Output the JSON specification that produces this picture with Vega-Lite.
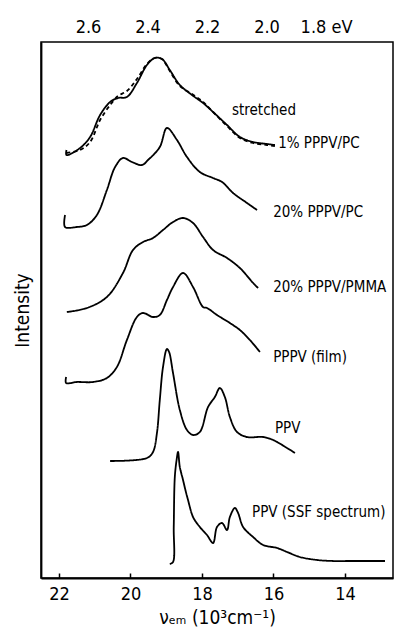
{
  "$schema": "https://vega.github.io/schema/vega-lite/v6.json",
  "width": 352,
  "height": 536,
  "autosize": "none",
  "padding": {"left": 41, "top": 42, "right": 1, "bottom": 65},
  "background": "white",
  "config": {
    "view": {"stroke": "black", "strokeWidth": 1.5},
    "font": "Liberation Sans Narrow, DejaVu Sans Condensed, Roboto Condensed, DejaVu Sans",
    "axis": {"labelFont": "Liberation Sans Narrow, DejaVu Sans Condensed, Roboto Condensed, DejaVu Sans", "titleFont": "Liberation Sans Narrow, DejaVu Sans Condensed, Roboto Condensed, DejaVu Sans", "labelColor": "black", "titleColor": "black", "domainColor": "black", "tickColor": "black", "titleFontWeight": "normal", "grid": false}
  },
  "datasets": {
    "curves": [
      {"s":"str","st":"solid","i":0,"wn":21.79,"y":428},
      {"s":"str","st":"solid","i":1,"wn":21.79,"y":423},
      {"s":"str","st":"solid","i":2,"wn":21.41,"y":430},
      {"s":"str","st":"solid","i":3,"wn":21.13,"y":441},
      {"s":"str","st":"solid","i":4,"wn":20.85,"y":463},
      {"s":"str","st":"solid","i":5,"wn":20.57,"y":476},
      {"s":"str","st":"solid","i":6,"wn":20.35,"y":480},
      {"s":"str","st":"solid","i":7,"wn":20.10,"y":481},
      {"s":"str","st":"solid","i":8,"wn":19.82,"y":495},
      {"s":"str","st":"solid","i":9,"wn":19.54,"y":513},
      {"s":"str","st":"solid","i":10,"wn":19.32,"y":520},
      {"s":"str","st":"solid","i":11,"wn":19.12,"y":519},
      {"s":"str","st":"solid","i":12,"wn":18.90,"y":508},
      {"s":"str","st":"solid","i":13,"wn":18.62,"y":493},
      {"s":"str","st":"solid","i":14,"wn":18.28,"y":483},
      {"s":"str","st":"solid","i":15,"wn":17.97,"y":475},
      {"s":"str","st":"solid","i":16,"wn":17.69,"y":466},
      {"s":"str","st":"solid","i":17,"wn":17.30,"y":453},
      {"s":"str","st":"solid","i":18,"wn":16.94,"y":441},
      {"s":"str","st":"solid","i":19,"wn":16.57,"y":436},
      {"s":"str","st":"solid","i":20,"wn":16.18,"y":434},
      {"s":"str","st":"solid","i":21,"wn":15.96,"y":433},

      {"s":"strd","st":"dashed","i":0,"wn":21.79,"y":425},
      {"s":"strd","st":"dashed","i":1,"wn":21.41,"y":428},
      {"s":"strd","st":"dashed","i":2,"wn":21.13,"y":436},
      {"s":"strd","st":"dashed","i":3,"wn":20.85,"y":458},
      {"s":"strd","st":"dashed","i":4,"wn":20.57,"y":473},
      {"s":"strd","st":"dashed","i":5,"wn":20.35,"y":482},
      {"s":"strd","st":"dashed","i":6,"wn":20.10,"y":487},
      {"s":"strd","st":"dashed","i":7,"wn":19.82,"y":499},
      {"s":"strd","st":"dashed","i":8,"wn":19.54,"y":514},
      {"s":"strd","st":"dashed","i":9,"wn":19.32,"y":520},
      {"s":"strd","st":"dashed","i":10,"wn":19.12,"y":519},
      {"s":"strd","st":"dashed","i":11,"wn":18.90,"y":507},
      {"s":"strd","st":"dashed","i":12,"wn":18.62,"y":492},
      {"s":"strd","st":"dashed","i":13,"wn":18.28,"y":484},
      {"s":"strd","st":"dashed","i":14,"wn":17.97,"y":476},
      {"s":"strd","st":"dashed","i":15,"wn":17.69,"y":466},
      {"s":"strd","st":"dashed","i":16,"wn":17.30,"y":452},
      {"s":"strd","st":"dashed","i":17,"wn":16.94,"y":440},
      {"s":"strd","st":"dashed","i":18,"wn":16.57,"y":435},
      {"s":"strd","st":"dashed","i":19,"wn":16.18,"y":433},
      {"s":"strd","st":"dashed","i":20,"wn":15.96,"y":432},

      {"s":"pc20","st":"solid","i":0,"wn":21.83,"y":363},
      {"s":"pc20","st":"solid","i":1,"wn":21.83,"y":351},
      {"s":"pc20","st":"solid","i":2,"wn":21.50,"y":351},
      {"s":"pc20","st":"solid","i":3,"wn":21.22,"y":353},
      {"s":"pc20","st":"solid","i":4,"wn":20.94,"y":363},
      {"s":"pc20","st":"solid","i":5,"wn":20.66,"y":388},
      {"s":"pc20","st":"solid","i":6,"wn":20.43,"y":411},
      {"s":"pc20","st":"solid","i":7,"wn":20.21,"y":420},
      {"s":"pc20","st":"solid","i":8,"wn":19.96,"y":416},
      {"s":"pc20","st":"solid","i":9,"wn":19.68,"y":413},
      {"s":"pc20","st":"solid","i":10,"wn":19.51,"y":418},
      {"s":"pc20","st":"solid","i":11,"wn":19.18,"y":431},
      {"s":"pc20","st":"solid","i":12,"wn":18.98,"y":450},
      {"s":"pc20","st":"solid","i":13,"wn":18.70,"y":438},
      {"s":"pc20","st":"solid","i":14,"wn":18.42,"y":421},
      {"s":"pc20","st":"solid","i":15,"wn":18.06,"y":406},
      {"s":"pc20","st":"solid","i":16,"wn":17.69,"y":400},
      {"s":"pc20","st":"solid","i":17,"wn":17.44,"y":396},
      {"s":"pc20","st":"solid","i":18,"wn":17.13,"y":385},
      {"s":"pc20","st":"solid","i":19,"wn":16.74,"y":375},
      {"s":"pc20","st":"solid","i":20,"wn":16.46,"y":368},

      {"s":"pmma","st":"solid","i":0,"wn":21.78,"y":266},
      {"s":"pmma","st":"solid","i":1,"wn":21.22,"y":270},
      {"s":"pmma","st":"solid","i":2,"wn":20.66,"y":281},
      {"s":"pmma","st":"solid","i":3,"wn":20.21,"y":305},
      {"s":"pmma","st":"solid","i":4,"wn":19.93,"y":328},
      {"s":"pmma","st":"solid","i":5,"wn":19.65,"y":336},
      {"s":"pmma","st":"solid","i":6,"wn":19.37,"y":340},
      {"s":"pmma","st":"solid","i":7,"wn":19.09,"y":348},
      {"s":"pmma","st":"solid","i":8,"wn":18.81,"y":356},
      {"s":"pmma","st":"solid","i":9,"wn":18.53,"y":360},
      {"s":"pmma","st":"solid","i":10,"wn":18.25,"y":355},
      {"s":"pmma","st":"solid","i":11,"wn":17.97,"y":341},
      {"s":"pmma","st":"solid","i":12,"wn":17.69,"y":328},
      {"s":"pmma","st":"solid","i":13,"wn":17.30,"y":320},
      {"s":"pmma","st":"solid","i":14,"wn":16.94,"y":310},
      {"s":"pmma","st":"solid","i":15,"wn":16.57,"y":295},
      {"s":"pmma","st":"solid","i":16,"wn":16.43,"y":290},

      {"s":"film","st":"solid","i":0,"wn":21.80,"y":201},
      {"s":"film","st":"solid","i":1,"wn":21.80,"y":195},
      {"s":"film","st":"solid","i":2,"wn":21.50,"y":196},
      {"s":"film","st":"solid","i":3,"wn":21.05,"y":196},
      {"s":"film","st":"solid","i":4,"wn":20.66,"y":200},
      {"s":"film","st":"solid","i":5,"wn":20.38,"y":211},
      {"s":"film","st":"solid","i":6,"wn":20.10,"y":238},
      {"s":"film","st":"solid","i":7,"wn":19.82,"y":261},
      {"s":"film","st":"solid","i":8,"wn":19.65,"y":265},
      {"s":"film","st":"solid","i":9,"wn":19.37,"y":261},
      {"s":"film","st":"solid","i":10,"wn":19.18,"y":263},
      {"s":"film","st":"solid","i":11,"wn":18.98,"y":278},
      {"s":"film","st":"solid","i":12,"wn":18.81,"y":291},
      {"s":"film","st":"solid","i":13,"wn":18.53,"y":305},
      {"s":"film","st":"solid","i":14,"wn":18.25,"y":291},
      {"s":"film","st":"solid","i":15,"wn":17.97,"y":271},
      {"s":"film","st":"solid","i":16,"wn":17.86,"y":270},
      {"s":"film","st":"solid","i":17,"wn":17.58,"y":263},
      {"s":"film","st":"solid","i":18,"wn":17.22,"y":255},
      {"s":"film","st":"solid","i":19,"wn":16.94,"y":248},
      {"s":"film","st":"solid","i":20,"wn":16.66,"y":238},
      {"s":"film","st":"solid","i":21,"wn":16.38,"y":226},

      {"s":"ppv","st":"solid","i":0,"wn":20.57,"y":117},
      {"s":"ppv","st":"solid","i":1,"wn":19.54,"y":120},
      {"s":"ppv","st":"solid","i":2,"wn":19.37,"y":126},
      {"s":"ppv","st":"solid","i":3,"wn":19.26,"y":145},
      {"s":"ppv","st":"solid","i":4,"wn":19.18,"y":178},
      {"s":"ppv","st":"solid","i":5,"wn":19.09,"y":211},
      {"s":"ppv","st":"solid","i":6,"wn":18.98,"y":229},
      {"s":"ppv","st":"solid","i":7,"wn":18.92,"y":226},
      {"s":"ppv","st":"solid","i":8,"wn":18.81,"y":205},
      {"s":"ppv","st":"solid","i":9,"wn":18.62,"y":168},
      {"s":"ppv","st":"solid","i":10,"wn":18.42,"y":148},
      {"s":"ppv","st":"solid","i":11,"wn":18.25,"y":143},
      {"s":"ppv","st":"solid","i":12,"wn":18.06,"y":146},
      {"s":"ppv","st":"solid","i":13,"wn":17.83,"y":171},
      {"s":"ppv","st":"solid","i":14,"wn":17.64,"y":181},
      {"s":"ppv","st":"solid","i":15,"wn":17.50,"y":190},
      {"s":"ppv","st":"solid","i":16,"wn":17.36,"y":181},
      {"s":"ppv","st":"solid","i":17,"wn":17.22,"y":161},
      {"s":"ppv","st":"solid","i":18,"wn":17.02,"y":146},
      {"s":"ppv","st":"solid","i":19,"wn":16.74,"y":141},
      {"s":"ppv","st":"solid","i":20,"wn":16.29,"y":141},
      {"s":"ppv","st":"solid","i":21,"wn":16.01,"y":138},
      {"s":"ppv","st":"solid","i":22,"wn":15.62,"y":130},
      {"s":"ppv","st":"solid","i":23,"wn":15.40,"y":125},

      {"s":"ssf","st":"solid","i":0,"wn":18.90,"y":14},
      {"s":"ssf","st":"solid","i":1,"wn":18.81,"y":16},
      {"s":"ssf","st":"solid","i":2,"wn":18.79,"y":51},
      {"s":"ssf","st":"solid","i":3,"wn":18.76,"y":101},
      {"s":"ssf","st":"solid","i":4,"wn":18.71,"y":118},
      {"s":"ssf","st":"solid","i":5,"wn":18.67,"y":126},
      {"s":"ssf","st":"solid","i":6,"wn":18.62,"y":111},
      {"s":"ssf","st":"solid","i":7,"wn":18.53,"y":98},
      {"s":"ssf","st":"solid","i":8,"wn":18.45,"y":86},
      {"s":"ssf","st":"solid","i":9,"wn":18.39,"y":78},
      {"s":"ssf","st":"solid","i":10,"wn":18.25,"y":61},
      {"s":"ssf","st":"solid","i":11,"wn":18.06,"y":51},
      {"s":"ssf","st":"solid","i":12,"wn":17.86,"y":43},
      {"s":"ssf","st":"solid","i":13,"wn":17.69,"y":35},
      {"s":"ssf","st":"solid","i":14,"wn":17.58,"y":51},
      {"s":"ssf","st":"solid","i":15,"wn":17.44,"y":55},
      {"s":"ssf","st":"solid","i":16,"wn":17.30,"y":48},
      {"s":"ssf","st":"solid","i":17,"wn":17.22,"y":61},
      {"s":"ssf","st":"solid","i":18,"wn":17.08,"y":70},
      {"s":"ssf","st":"solid","i":19,"wn":16.99,"y":65},
      {"s":"ssf","st":"solid","i":20,"wn":16.85,"y":51},
      {"s":"ssf","st":"solid","i":21,"wn":16.57,"y":41},
      {"s":"ssf","st":"solid","i":22,"wn":16.29,"y":33},
      {"s":"ssf","st":"solid","i":23,"wn":15.90,"y":30},
      {"s":"ssf","st":"solid","i":24,"wn":15.62,"y":26},
      {"s":"ssf","st":"solid","i":25,"wn":15.26,"y":21},
      {"s":"ssf","st":"solid","i":26,"wn":14.78,"y":18},
      {"s":"ssf","st":"solid","i":27,"wn":14.34,"y":17},
      {"s":"ssf","st":"solid","i":28,"wn":13.86,"y":17},
      {"s":"ssf","st":"solid","i":29,"wn":13.39,"y":17},
      {"s":"ssf","st":"solid","i":30,"wn":12.88,"y":17}
    ],
    "labels": [
      {"t":"stretched","wn":17.16,"y":468,"it":"normal"},
      {"t":"1% PPPV/PC","wn":15.87,"y":435,"it":"normal"},
      {"t":"20% PPPV/PC","wn":16.01,"y":366,"it":"normal"},
      {"t":"20% PPPV/PMMA","wn":16.01,"y":291,"it":"normal"},
      {"t":"PPPV (film)","wn":16.01,"y":221,"it":"normal"},
      {"t":"PPV","wn":15.96,"y":150,"it":"normal"},
      {"t":"PPV (SSF spectrum)","wn":16.60,"y":66,"it":"italic"}
    ],
    "ev": [{"ev":2.0}]
  },
  "resolve": {"scale": {"x": "independent"}, "axis": {"x": "independent"}},
  "layer": [
    {
      "data": {"name": "curves"},
      "mark": {"type": "line", "color": "black", "strokeWidth": 1.8, "interpolate": "catmull-rom"},
      "encoding": {
        "x": {"field": "wn", "type": "quantitative", "scale": {"domain": [22.503, 12.657], "nice": false, "zero": false},
              "axis": {"orient": "bottom", "values": [22, 20, 18, 16, 14], "format": "d", "labelFontSize": 18, "tickSize": -5, "tickWidth": 1.5, "domainWidth": 1.8, "labelPadding": 12, "labelFlush": false,
                       "title": "νₑₘ (10³cm⁻¹)", "titleFontSize": 19, "titlePadding": 5}},
        "y": {"field": "y", "type": "quantitative", "scale": {"domain": [0, 536], "nice": false, "zero": false},
              "axis": {"title": "Intensity", "titleFontSize": 19, "labels": false, "ticks": false, "domainWidth": 1.8, "titlePadding": 9}},
        "detail": {"field": "s"},
        "order": {"field": "i", "type": "quantitative"},
        "strokeDash": {"field": "st", "type": "nominal", "scale": {"domain": ["solid", "dashed"], "range": [[1, 0], [4, 3]]}, "legend": null}
      }
    },
    {
      "data": {"name": "labels"},
      "mark": {"type": "text", "align": "left", "baseline": "middle", "fontSize": 15, "color": "black"},
      "encoding": {
        "x": {"field": "wn", "type": "quantitative", "scale": {"domain": [22.503, 12.657], "nice": false, "zero": false}, "axis": null},
        "y": {"field": "y", "type": "quantitative"},
        "text": {"field": "t"},
        "fontStyle": {"field": "it", "type": "nominal", "scale": null}
      }
    },
    {
      "data": {"name": "ev"},
      "mark": {"type": "point", "opacity": 0},
      "encoding": {
        "x": {"field": "ev", "type": "quantitative", "scale": {"domain": [2.758, 1.575], "nice": false, "zero": false},
              "axis": {"orient": "top", "values": [2.6, 2.4, 2.2, 2.0, 1.8], "format": ".1f", "labelExpr": "datum.value == 1.8 ? '1.8  eV' : format(datum.value, '.1f')", "labelFontSize": 18, "tickSize": 0, "domain": false, "labelPadding": 6, "title": null, "labelFlush": false}},
        "y": {"value": 100}
      }
    }
  ]
}
